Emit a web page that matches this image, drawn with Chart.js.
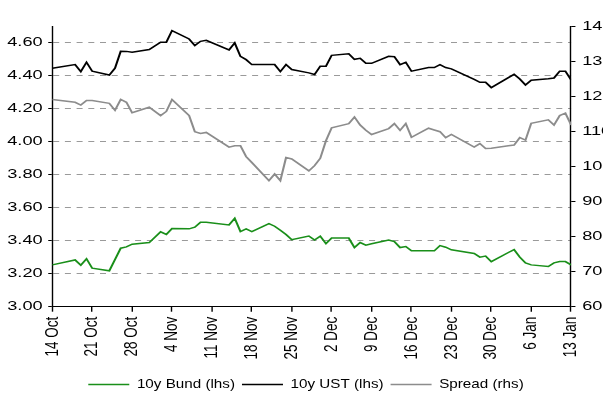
<!DOCTYPE html>
<html><head><meta charset="utf-8">
<script src="https://cdn.jsdelivr.net/npm/chart.js@4/dist/chart.umd.min.js"></script>
<style>html,body{margin:0;padding:0;background:#fff;overflow:hidden}canvas{display:block}</style>
</head><body>
<canvas id="c" width="431" height="401" style="width:603px;height:401px"></canvas>
<script>
// ---- data (x = days since 14 Oct) ----
const days = [0,4,5,6,7,10,11,12,13,14,17,19,20,21,24,25,26,27,31,32,33,34,35,38,39,40,41,42,45,46,47,48,49,52,53,54,55,56,59,60,61,62,63,66,67,68,69,70,74,75,76,77,80,81,82,83,84,87,88,89,90,91];
const bund = [3.253,3.283,3.251,3.290,3.233,3.217,3.285,3.354,3.362,3.378,3.388,3.453,3.437,3.473,3.471,3.481,3.511,3.511,3.495,3.535,3.455,3.471,3.455,3.503,3.487,3.463,3.437,3.406,3.428,3.404,3.427,3.382,3.415,3.415,3.358,3.388,3.372,3.381,3.404,3.394,3.358,3.364,3.338,3.338,3.338,3.370,3.360,3.344,3.322,3.300,3.306,3.273,3.328,3.346,3.300,3.265,3.253,3.243,3.265,3.273,3.273,3.253];
const ust = [4.443,4.465,4.423,4.479,4.425,4.402,4.443,4.546,4.545,4.540,4.556,4.600,4.600,4.671,4.620,4.580,4.606,4.612,4.554,4.596,4.515,4.495,4.465,4.465,4.465,4.423,4.465,4.435,4.415,4.405,4.455,4.455,4.521,4.531,4.497,4.503,4.473,4.473,4.515,4.513,4.465,4.479,4.425,4.447,4.447,4.465,4.447,4.439,4.375,4.358,4.358,4.326,4.386,4.406,4.378,4.342,4.370,4.380,4.384,4.425,4.425,4.372];
const spread = [119.2,118.4,117.6,118.9,118.9,118.1,116.1,119.2,118.4,115.4,117.0,114.6,115.8,119.2,114.6,110.0,109.5,109.8,105.6,106.0,106.0,102.9,101.2,96.0,97.9,96.0,102.6,102.2,98.8,100.3,102.4,107.4,111.1,112.3,114.2,111.9,110.4,109.2,110.9,112.3,110.4,112.3,108.4,111.0,110.5,110.0,108.3,109.2,105.6,106.6,105.2,105.3,106.0,106.2,108.3,107.6,112.4,113.4,111.9,114.6,115.3,111.9];
const xTickDays = [0,7,14,21,28,35,42,49,56,63,70,77,84,91];
const xTickLabels = ['14 Oct','21 Oct','28 Oct','4 Nov','11 Nov','18 Nov','25 Nov','2 Dec','9 Dec','16 Dec','23 Dec','30 Dec','6 Jan','13 Jan'];
const leftTicks = [3.0,3.2,3.4,3.6,3.8,4.0,4.2,4.4,4.6];
const rightTicks = [60,70,80,90,100,110,120,130,140];
const seriesLabels = ['10y Bund (lhs)','10y UST (lhs)','Spread (rhs)'];

// ---- layout (chart drawn in a narrower space, stretched horizontally like the reference) ----
const W = 603, H = 401, SX = 1.4, LW = W / SX;
const SL = 1.17, LEGEND_CENTER = 306;           // legend is stretched less
const PLOT_LEFT = 52.3 / SX, PLOT_RIGHT = 570.7 / SX, PLOT_TOP = 26.7, PLOT_BOTTOM = 306.7;
const LEGEND_FONT = {size: 13};
const LEGEND_PAD = 6;
const LEGEND_H = LEGEND_FONT.size + LEGEND_PAD + 10;

Chart.defaults.font.family = "'Liberation Sans', Arial, sans-serif";
Chart.defaults.color = '#000';

const pts = vals => days.map((d, i) => ({x: d, y: vals[i]}));

const cfg = {
  type: 'line',
  data: {datasets: [
    {label: seriesLabels[0], data: pts(bund), borderColor: '#1a8f1a', backgroundColor: '#1a8f1a', borderWidth: 1.5, pointRadius: 0, tension: 0, yAxisID: 'y'},
    {label: seriesLabels[1], data: pts(ust), borderColor: '#000000', backgroundColor: '#000000', borderWidth: 1.5, pointRadius: 0, tension: 0, yAxisID: 'y'},
    {label: seriesLabels[2], data: pts(spread), borderColor: '#8c8c8c', backgroundColor: '#8c8c8c', borderWidth: 1.5, pointRadius: 0, tension: 0, yAxisID: 'y1'}
  ]},
  options: {
    responsive: false, animation: false, events: [],
    layout: {padding: {top: PLOT_TOP, left: 0, right: 0, bottom: 0}},
    plugins: {
      tooltip: {enabled: false},
      legend: {
        position: 'bottom',
        labels: {
          usePointStyle: true, pointStyle: 'line', pointStyleWidth: 41 / SL,
          padding: LEGEND_PAD, font: LEGEND_FONT, color: '#000',
          generateLabels(chart) {
            const items = Chart.defaults.plugins.legend.labels.generateLabels(chart);
            items.forEach(it => { it.lineWidth = 1.5; it.pointStyle = 'line'; });
            return items;
          }
        }
      }
    },
    scales: {
      x: {
        type: 'linear', min: 0, max: 91,
        afterBuildTicks: s => { s.ticks = xTickDays.map(v => ({value: v})); },
        afterFit: s => { s.height = H - PLOT_BOTTOM - LEGEND_H; },
        ticks: {autoSkip: false, minRotation: 90, maxRotation: 90, padding: 5, font: {size: 13.5},
                callback: (v, i) => xTickLabels[i]},
        grid: {drawOnChartArea: false, tickLength: 5, tickColor: '#000', color: '#000'},
        border: {color: '#000', width: 1}
      },
      y: {
        position: 'left', min: 3, max: 3 + (PLOT_BOTTOM - PLOT_TOP) / 165.25,
        afterBuildTicks: s => { s.ticks = leftTicks.map(v => ({value: v})); },
        afterFit: s => { s.width = PLOT_LEFT; },
        ticks: {padding: 4, font: {size: 13}, callback: v => Number(v).toFixed(2)},
        grid: {color: c => (c.tick && c.tick.value === 3) ? 'rgba(0,0,0,0)' : '#9a9a9a', lineWidth: 1, tickColor: '#000', tickLength: 2.9},
        border: {color: '#000', width: 1, dash: [6 / SX, 5.7 / SX]}
      },
      y1: {
        position: 'right', min: 60, max: 140,
        afterBuildTicks: s => { s.ticks = rightTicks.map(v => ({value: v})); },
        afterFit: s => { s.width = LW - PLOT_RIGHT; },
        ticks: {padding: 4.8, font: {size: 13}},
        grid: {drawOnChartArea: false, tickColor: '#000', tickLength: 3.1},
        border: {color: '#000', width: 1}
      }
    }
  }
};

const canvas = document.getElementById('c');
const chart = new Chart(canvas.getContext('2d'), cfg);

// legend drawn with its own (smaller) horizontal stretch, centred like the reference
const legendDraw = chart.legend.draw.bind(chart.legend);
chart.legend.draw = function (area) {
  const c = chart.ctx;
  c.save();
  c.setTransform(SL, 0, 0, 1, LEGEND_CENTER - SL * (chart.width / 2), 0);
  legendDraw(area);
  c.restore();
};

// stretch horizontally like the reference
canvas.width = W; canvas.height = H;
canvas.style.width = W + 'px'; canvas.style.height = H + 'px';
chart.ctx.setTransform(SX, 0, 0, 1, 0, 0);
chart.draw();
</script>
</body></html>
